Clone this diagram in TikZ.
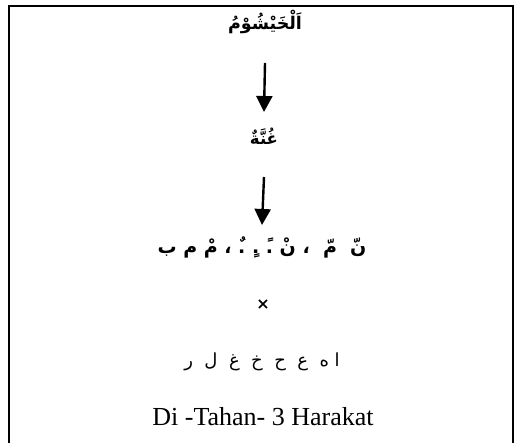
\documentclass[tikz,border=0pt]{standalone}
\usepackage{fontspec}
\setmainfont{Liberation Serif}
\newfontfamily\arabicfont[Script=Arabic]{DejaVu Sans}
\TeXXeTstate=1
\usetikzlibrary{arrows.meta}
\begin{document}
\begin{tikzpicture}[x=1pt,y=1pt,
  frame/.style={line width=2pt},
  flow/.style={line width=2.4pt,-{Triangle[width=16pt,length=16pt]}},
  lbl/.style={inner sep=0pt,anchor=center}]
\useasboundingbox (0,0) rectangle (514,443);
% open frame around the scheme
\draw[frame] (8.5,-5) -- (8.5,436.5) -- (513,436.5) -- (513,-5);
% labels
\node[lbl] (t1) at (265,421) {\arabicfont\bfseries\fontsize{17.5}{20}\selectfont\beginR اَلْخَيْشُوْمُ\endR};
\node[lbl] (t2) at (264,307) {\arabicfont\bfseries\fontsize{16.5}{20}\selectfont\beginR غُنَّةٌ\endR};
\node[lbl] (t3) at (262,196) {\arabicfont\bfseries\fontsize{19}{22}\selectfont\beginR نّ \ مّ \ ، نْ .ً .ٍ .ٌ ، مْ م ب\endR};
\node[lbl] (t4) at (263,138) {\arabicfont\bfseries\fontsize{16}{20}\selectfont ×};
\node[lbl] (t5) at (262,81) {\arabicfont\fontsize{18}{22}\selectfont\beginR ا ه \ ع \ ح \ خ \ غ \ ل \ ر\endR};
\node[lbl] (t6) at (263,26) {\fontsize{26}{30}\selectfont Di -Tahan- 3 Harakat};
% arrows
\draw[flow] ([yshift=-41pt]t1.center) -- ([yshift=24pt]t2.center);
\draw[flow] ([yshift=-41pt]t2.center) -- ([yshift=22pt]t3.center);
\end{tikzpicture}
\end{document}
